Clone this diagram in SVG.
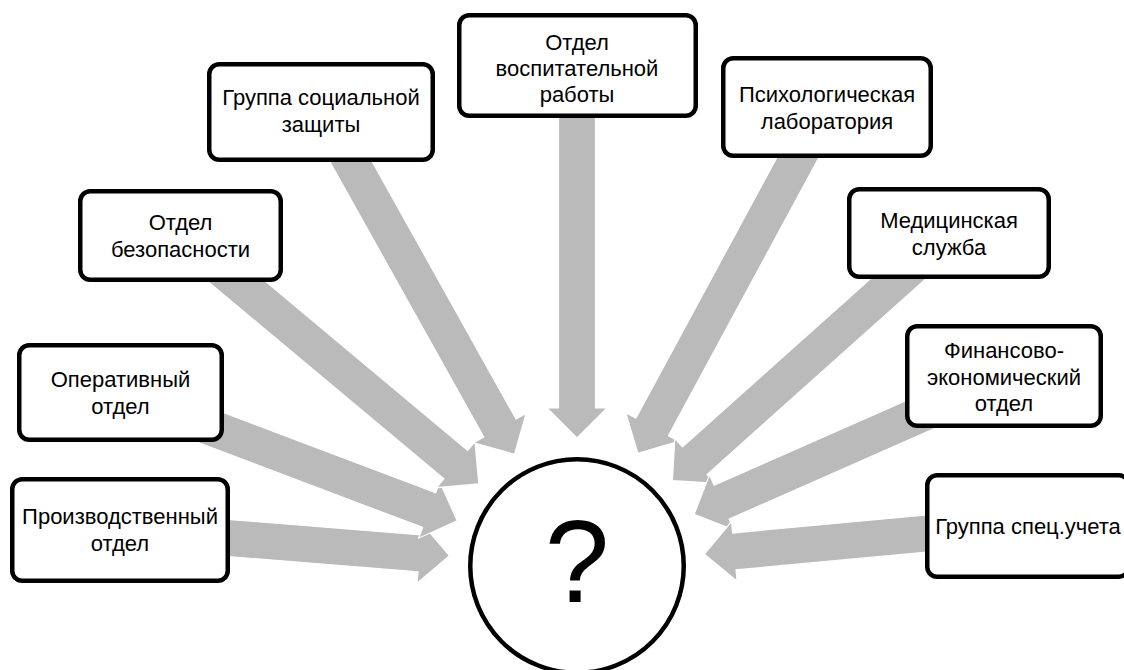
<svg xmlns="http://www.w3.org/2000/svg" width="1124" height="670" viewBox="0 0 1124 670">
<style>
.box{fill:#fff;stroke:#000;stroke-width:4.5}
.arr{fill:#bababa;stroke:#fff;stroke-width:1.2;stroke-linejoin:miter}
.t{font-family:"Liberation Sans",Arial,sans-serif;font-size:22px;fill:#000;text-anchor:middle}
.q{font-family:"Liberation Sans",Arial,sans-serif;font-size:116px;fill:#000;text-anchor:middle}
</style>
<rect width="1124" height="670" fill="#fff"/>
<g id="connectors">
<path class="arr" transform="translate(577 566) rotate(4.6)" d="M-458.4,-18.5 H-158 V-30 L-128,0 L-158,30 V18.5 H-458.4 Z"/>
<path class="arr" transform="translate(577 566) rotate(20.7)" d="M-488.4,-18.5 H-158 V-30 L-128,0 L-158,30 V18.5 H-488.4 Z"/>
<path class="arr" transform="translate(577 566) rotate(39.9)" d="M-516.2,-18.5 H-158 V-30 L-128,0 L-158,30 V18.5 H-516.2 Z"/>
<path class="arr" transform="translate(577 566) rotate(60.8)" d="M-522.1,-18.5 H-158 V-30 L-128,0 L-158,30 V18.5 H-522.1 Z"/>
<path class="arr" transform="translate(577 566) rotate(90)" d="M-500.5,-18.5 H-158 V-30 L-128,0 L-158,30 V18.5 H-500.5 Z"/>
<path class="arr" transform="translate(577 566) rotate(118.4)" d="M-522.7,-18.5 H-158 V-30 L-128,0 L-158,30 V18.5 H-522.7 Z"/>
<path class="arr" transform="translate(577 566) rotate(138.2)" d="M-499.3,-18.5 H-158 V-30 L-128,0 L-158,30 V18.5 H-499.3 Z"/>
<path class="arr" transform="translate(577 566) rotate(156.2)" d="M-467.4,-18.5 H-158 V-30 L-128,0 L-158,30 V18.5 H-467.4 Z"/>
<path class="arr" transform="translate(577 566) rotate(174.7)" d="M-452.8,-18.5 H-158 V-30 L-128,0 L-158,30 V18.5 H-452.8 Z"/>
</g>
<g id="center">
<circle cx="577" cy="566" r="106.75" fill="#fff" stroke="#000" stroke-width="4.5"/>
<text class="q" x="577" y="602">?</text>
</g>
<g id="proizv">
<rect class="box" x="12.25" y="479.25" width="215.5" height="101.5" rx="10"/>
<text class="t" x="120" y="523.5">Производственный</text>
<text class="t" x="120" y="550.5">отдел</text>
</g>
<g id="operat">
<rect class="box" x="19.25" y="345.25" width="202.5" height="94.5" rx="10"/>
<text class="t" x="120.5" y="386.5">Оперативный</text>
<text class="t" x="120.5" y="413.5">отдел</text>
</g>
<g id="bezop">
<rect class="box" x="80.25" y="191.25" width="200.5" height="88.5" rx="10"/>
<text class="t" x="180.5" y="230">Отдел</text>
<text class="t" x="180.5" y="257">безопасности</text>
</g>
<g id="soczash">
<rect class="box" x="209.25" y="64.25" width="223.5" height="95.5" rx="10"/>
<text class="t" x="321" y="105">Группа социальной</text>
<text class="t" x="321" y="132">защиты</text>
</g>
<g id="vospit">
<rect class="box" x="459.25" y="15.25" width="236.5" height="100.5" rx="10"/>
<text class="t" x="577" y="49.5">Отдел</text>
<text class="t" x="577" y="76">воспитательной</text>
<text class="t" x="577" y="102">работы</text>
</g>
<g id="psih">
<rect class="box" x="723.25" y="58.25" width="207.5" height="97.5" rx="10"/>
<text class="t" x="827" y="101.5">Психологическая</text>
<text class="t" x="827" y="128.5">лаборатория</text>
</g>
<g id="med">
<rect class="box" x="849.25" y="189.25" width="199.5" height="87.5" rx="10"/>
<text class="t" x="949" y="227.5">Медицинская</text>
<text class="t" x="949" y="254.5">служба</text>
</g>
<g id="fin">
<rect class="box" x="907.25" y="326.25" width="193.5" height="99.5" rx="10"/>
<text class="t" x="1004" y="358">Финансово-</text>
<text class="t" x="1004" y="385">экономический</text>
<text class="t" x="1004" y="411">отдел</text>
</g>
<g id="specuchet">
<rect class="box" x="927.25" y="475.25" width="201.5" height="101.5" rx="10"/>
<text class="t" x="1028" y="533.5">Группа спец.учета</text>
</g>
</svg>
